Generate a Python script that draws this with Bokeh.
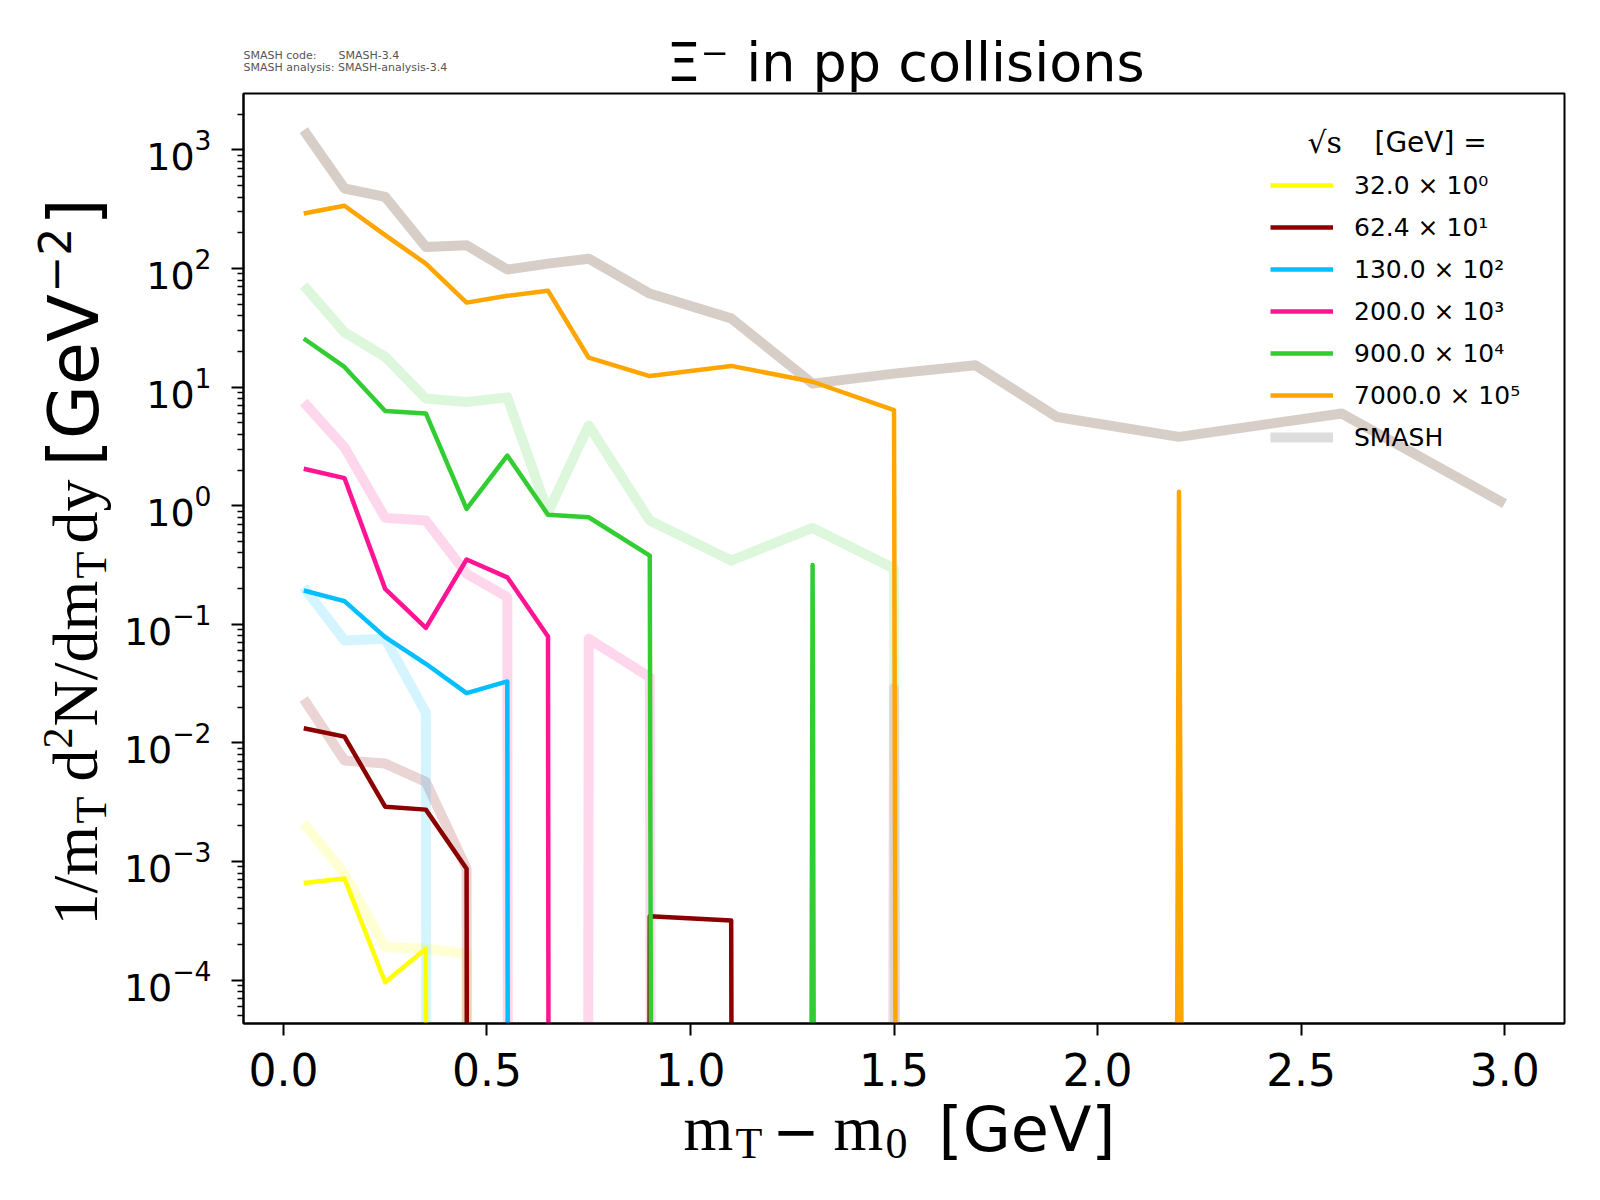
import math

from bokeh.plotting import figure
from bokeh.models import Label, Legend, LegendItem, FixedTicker, PrintfTickFormatter, GridBox
from bokeh.embed import file_html
from bokeh.resources import INLINE


# m_T - m_0 bin centres [GeV]
mt = [0.05, 0.15, 0.25, 0.35, 0.45, 0.55, 0.65, 0.75, 0.9, 1.1, 1.3, 1.5, 1.7, 1.9, 2.2, 2.6, 3.0]

energy_labels = ["32.0 × 10⁰", "62.4 × 10¹", "130.0 × 10²", "200.0 × 10³", "900.0 × 10⁴", "7000.0 × 10⁵"]
colors = ["yellow", "darkred", "deepskyblue", "deeppink", "limegreen", "orange"]

# measured (scaled) spectra, 0 = empty bin
data_32 = [6.6e-4, 7.2e-4, 9.6e-5, 1.84e-4, 0, 0, 0, 0, 0, 0, 0, 0, 0, 0, 0, 0, 0]
data_62 = [1.33e-2, 1.13e-2, 2.9e-3, 2.74e-3, 8.7e-4, 0, 0, 0, 3.46e-4, 3.18e-4, 0, 0, 0, 0, 0, 0, 0]
data_130 = [0.193, 0.157, 0.078, 0.0465, 0.0263, 0.033, 0, 0, 0, 0, 0, 0, 0, 0, 0, 0, 0]
data_200 = [2.05, 1.71, 0.199, 0.0934, 0.352, 0.249, 0.079, 0, 0, 0, 0, 0, 0, 0, 0, 0, 0]
data_900 = [25.7, 14.8, 6.3, 6.0, 0.94, 2.65, 0.84, 0.80, 0.38, 0, 0.316, 0, 0, 0, 0, 0, 0]
data_7000 = [291, 338, 191, 110, 51.6, 58.9, 64.9, 17.7, 12.4, 15.1, 11.1, 6.4, 0, 0, 1.31, 0, 0]

# SMASH spectra
smash_32 = [2.1e-3, 7.9e-4, 1.9e-4, 1.84e-4, 1.67e-4, 0, 0, 0, 0, 0, 0, 0, 0, 0, 0, 0, 0]
smash_62 = [2.35e-2, 7.1e-3, 6.7e-3, 4.7e-3, 8.7e-4, 0, 0, 0, 0, 0, 0, 0, 0, 0, 0, 0, 0]
smash_130 = [0.206, 0.073, 0.0755, 0.018, 0, 0, 0, 0, 0, 0, 0, 0, 0, 0, 0, 0, 0]
smash_200 = [7.46, 3.11, 0.79, 0.75, 0.267, 0.17, 0, 0.0755, 0.0358, 0, 0, 0.029, 0, 0, 0, 0, 0]
smash_900 = [72, 29, 18, 8.0, 7.5, 8.2, 0.88, 4.75, 0.75, 0.345, 0.65, 0.296, 0, 0, 0, 0, 0]
smash_7000 = [1466, 473, 402, 152, 157, 98, 110, 121, 61.5, 38, 10.7, 13.0, 15.3, 5.6, 3.81, 5.99, 1.04]

data_sets = [data_32, data_62, data_130, data_200, data_900, data_7000]
smash_sets = [smash_32, smash_62, smash_130, smash_200, smash_900, smash_7000]
smash_colors = ["yellow", "darkred", "deepskyblue", "deeppink", "limegreen", "#6e4a35"]
smash_alphas = [0.17, 0.17, 0.17, 0.17, 0.17, 0.27]

x_ticks = [0.0, 0.5, 1.0, 1.5, 2.0, 2.5, 3.0]
y_ticks = [1e-4, 1e-3, 1e-2, 1e-1, 1e0, 1e1, 1e2, 1e3]

FLOOR = 1e-300  # empty bins are clipped far below the axis (like matplotlib's log clipping)
W, H = 1584, 1184


def clip(values):
    return [v if v > 0 else FLOOR for v in values]


p = figure(width=W, height=H, x_range=(-0.098, 3.147), y_range=(4.31e-5, 2990),
           y_axis_type="log", output_backend="svg", toolbar_location=None,
           min_border_left=243, min_border_right=20, min_border_top=93, min_border_bottom=161)
p.frame_align = False
p.grid.grid_line_color = None
p.outline_line_color = "black"
p.outline_line_width = 2
p.background_fill_color = "white"
p.border_fill_color = "white"

for vals, col, a in zip(smash_sets, smash_colors, smash_alphas):
    p.line(mt, clip(vals), line_color=col, line_alpha=a, line_width=10, line_join="round")

renderers = []
for vals, col in zip(data_sets, colors):
    renderers.append(p.line(mt, clip(vals), line_color=col, line_width=4.5, line_join="round"))
# legend-only entry for the SMASH curves (no visible points)
smash_proxy = p.line(mt[:1], [float("nan")], line_color="gray", line_alpha=0.27, line_width=10)

# axes
p.xaxis.ticker = FixedTicker(ticks=x_ticks)
p.xaxis.formatter = PrintfTickFormatter(format="%.1f")
p.xaxis.minor_tick_line_color = None
p.xaxis.major_label_text_font_size = "44px"
p.xaxis.major_label_standoff = 17

minor = [m * 10.0 ** k for k in range(-5, 4) for m in range(2, 10)]
p.yaxis.ticker = FixedTicker(ticks=y_ticks, minor_ticks=minor)
p.yaxis.major_label_text_font_size = "38px"
p.yaxis.major_label_standoff = 20

for ax in (p.xaxis, p.yaxis):
    ax.axis_line_width = 2
    ax.major_tick_line_width = 2
    ax.major_tick_out = 12
    ax.major_tick_in = 0
    ax.minor_tick_line_width = 1.5
    ax.minor_tick_out = 6
    ax.minor_tick_in = 0
    ax.major_label_text_font = "DejaVu Sans"
    ax.major_label_text_color = "black"

# legend
items = [LegendItem(label=lab, renderers=[r]) for lab, r in zip(energy_labels, renderers)]
items.append(LegendItem(label="SMASH", renderers=[smash_proxy]))
legend = Legend(items=items, location=(1027, 571), glyph_width=63, glyph_height=30,
                label_height=30, label_standoff=21, spacing=12, padding=0, margin=0,
                label_text_font="DejaVu Sans", label_text_font_size="25px",
                label_text_color="black",
                border_line_alpha=0, background_fill_alpha=0)
p.add_layout(legend)

# transparent text layer on top of the plot (labels in the plot frame get clipped)
t = figure(width=W, height=H, x_range=(0, W), y_range=(0, H), min_border=0,
           x_axis_location=None, y_axis_location=None,
           output_backend="svg", toolbar_location=None)
t.frame_align = False
t.grid.grid_line_color = None
t.outline_line_color = None
t.background_fill_alpha = 0
t.border_fill_alpha = 0


def put(text, x, y_top, size, font="DejaVu Sans", angle=0.0, align="left", color="black"):
    # x, y_top: baseline position in canvas pixels from the top-left corner;
    # bokeh draws the "alphabetic" baseline about a third of an em lower, so lift it
    shift = 0.34 * size
    if angle:
        x -= shift
    else:
        y_top -= shift
    t.add_layout(Label(x=x, y=H - y_top, text=text,
                       text_font=font, text_font_size=f"{size}px", text_color=color,
                       angle=angle, text_align=align, text_baseline="alphabetic"))


serif = "Liberation Serif"

# legend title
put("√s", 1307, 152, 30, font="DejaVu Serif")
put("[GeV] =", 1374, 152, 28)

# title and SMASH version stamp
put("Ξ⁻ in pp collisions", 905, 80, 54, align="center")
put("SMASH code:", 243, 59, 11, color="#555555")
put("SMASH-3.4", 338, 59, 11, color="#555555")
put("SMASH analysis: SMASH-analysis-3.4", 243, 71, 11, color="#555555")

# x axis label: m_T - m_0 [GeV]
put("m", 683, 1150, 64, font=serif)
put("T", 735, 1158, 44, font=serif)
put("−", 772, 1150, 56)
put("m", 833, 1150, 64, font=serif)
put("0", 885, 1158, 44, font=serif)
put("[GeV]", 938, 1150, 62)

# y axis label: 1/m_T d^2N/dm_T dy [GeV^-2]
up = math.pi / 2
put("1/m", 97, 925, 64, font=serif, angle=up)
put("T", 106, 823, 44, font=serif, angle=up)
put("d", 97, 781, 64, font=serif, angle=up)
put("2", 72, 748, 42, font=serif, angle=up)
put("N/dm", 97, 726, 64, font=serif, angle=up)
put("T", 106, 578, 44, font=serif, angle=up)
put("dy", 97, 543, 64, font=serif, angle=up)
put("[GeV", 97, 466, 70, angle=up)
put("−2", 69, 292, 44, angle=up)
put("]", 97, 225, 70, angle=up)

layout = GridBox(children=[(p, 0, 0), (t, 0, 0)])

open("out.html", "w").write(file_html(layout, INLINE))
